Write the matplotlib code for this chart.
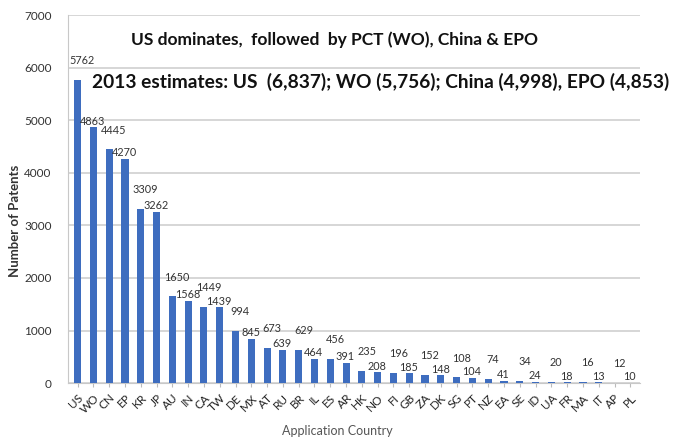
import matplotlib.pyplot as plt
import numpy as np

countries = ["US", "WO", "CN", "EP", "KR", "JP", "AU", "IN", "CA", "TW", "DE", "MX",
             "AT", "RU", "BR", "IL", "ES", "AR", "HK", "NO", "FI", "GB", "ZA", "DK",
             "SG", "PT", "NZ", "EA", "SE", "ID", "UA", "FR", "MA", "IT", "AP", "PL"]
patents = [5762, 4863, 4445, 4270, 3309, 3262, 1650, 1568, 1449, 1439, 994, 845,
           673, 639, 629, 464, 456, 391, 235, 208, 196, 185, 152, 148,
           108, 104, 74, 41, 34, 24, 20, 18, 16, 13, 12, 10]
yticks = [0, 1000, 2000, 3000, 4000, 5000, 6000, 7000]

plt.rcParams['font.family'] = ['Lato', 'DejaVu Sans']

fig = plt.figure(figsize=(6.88, 4.45), dpi=100)
ax = fig.add_axes([0.099, 0.139, 0.831, 0.827])

x = np.arange(len(countries))
ax.bar(x, patents, width=0.45, color="#3E6DBF", zorder=3)

# value labels above the bars, staggered so neighbours don't collide
for i, (xi, v) in enumerate(zip(x, patents)):
  if i % 2 == 0:
    off = (3.5, 10)
  else:
    off = (-0.5, 0.5)
  ax.annotate(str(v), (xi, v), xytext=off, textcoords="offset points",
              ha="center", va="bottom", fontsize=7.8, color="#333333")

ax.set_xlim(-0.6, len(countries) - 0.4)
ax.set_ylim(0, 7000)
ax.set_yticks(yticks)
ax.set_yticklabels([str(t) for t in yticks], fontsize=8.5, color="#333333")
ax.set_xticks(x)
ax.set_xticklabels(countries, rotation=45, ha="right", rotation_mode="anchor",
                   fontsize=8.5, color="#222222")
ax.tick_params(axis="y", length=0, pad=12)
ax.tick_params(axis="x", length=3, color="#bbbbbb")

ax.grid(axis="y", color="#d0d0d0", linewidth=1.2, zorder=0)
for s in ["top", "right"]:
  ax.spines[s].set_visible(False)
ax.spines["left"].set_color("#c8c8c8")
ax.spines["bottom"].set_color("#c8c8c8")

fig.text(0.022, 0.503, "Number of Patents", rotation=90, ha="center", va="center",
         fontsize=9.5, fontweight="bold", color="#333333")
fig.text(0.49, 0.022, "Application Country", ha="center", fontsize=9, color="#555555")

fig.text(0.19, 0.91, "US dominates,  followed  by PCT (WO), China & EPO",
         fontsize=12.5, fontweight="bold", color="#111111", va="center")
fig.text(0.133, 0.815, "2013 estimates: US  (6,837); WO (5,756); China (4,998), EPO (4,853)",
         fontsize=13.8, fontweight="bold", color="#111111", va="center")

fig.savefig("out.png", dpi=100)
